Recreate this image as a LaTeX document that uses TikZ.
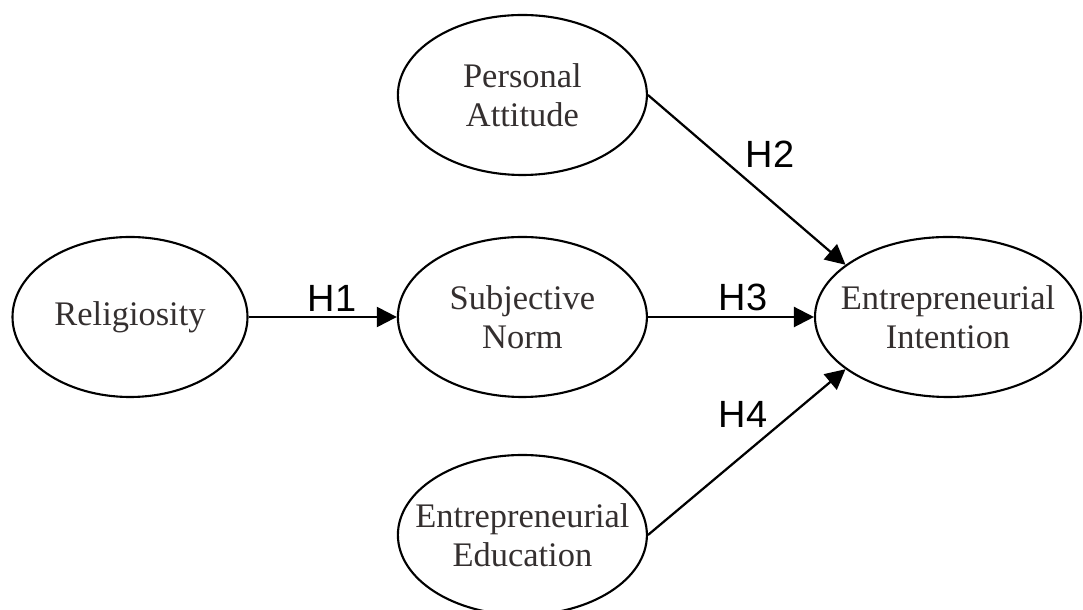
\documentclass[tikz,border=0pt]{standalone}
\usepackage{fontspec}
\setmainfont{Liberation Serif}
\newfontfamily\hfont{Liberation Sans}
\usetikzlibrary{shapes.geometric}
\usetikzlibrary{arrows.meta}
\definecolor{textgray}{RGB}{52,47,47}

\begin{document}
\begin{tikzpicture}[construct/.style={ellipse, draw, line width=1.5pt, inner xsep=-2cm, inner ysep=-0.5cm, minimum width=6.225cm, minimum height=4cm, align=center, text=textgray, font=\fontsize{24.5}{27.7}\selectfont},
  hyp/.style={font=\hfont\fontsize{27}{32}\selectfont, inner sep=0pt},
  link/.style={line width=1.6pt, -{Triangle[length=0.5cm, width=0.5cm]}}]
  \useasboundingbox (0,0) rectangle (27.075,15.25);
  \node[construct, minimum width=5.875cm] (rel) at (3.25,7.325) {Religiosity};
  \node[construct] (sn) at (13.06,7.325) {Subjective\\Norm};
  \node[construct] (pa) at (13.06,12.875) {Personal\\Attitude};
  \node[construct] (ee) at (13.06,1.875) {Entrepreneurial\\Education};
  \node[construct, minimum width=6.65cm] (ei) at (23.7,7.325) {Entrepreneurial\\Intention};

  \draw[link] (rel) -- (sn);
  \draw[link] (sn) -- (ei);
  \draw[link] (pa.east) -- (ei.153);
  \draw[link] (ee.east) -- (ei.207);

  \node[hyp] (h1) at (8.3,7.8) {H1};
  \node[hyp] (h2) at (19.25,11.4) {H2};
  \node[hyp] (h3) at (18.575,7.825) {H3};
  \node[hyp] (h4) at (18.575,4.9) {H4};
\end{tikzpicture}
\end{document}
